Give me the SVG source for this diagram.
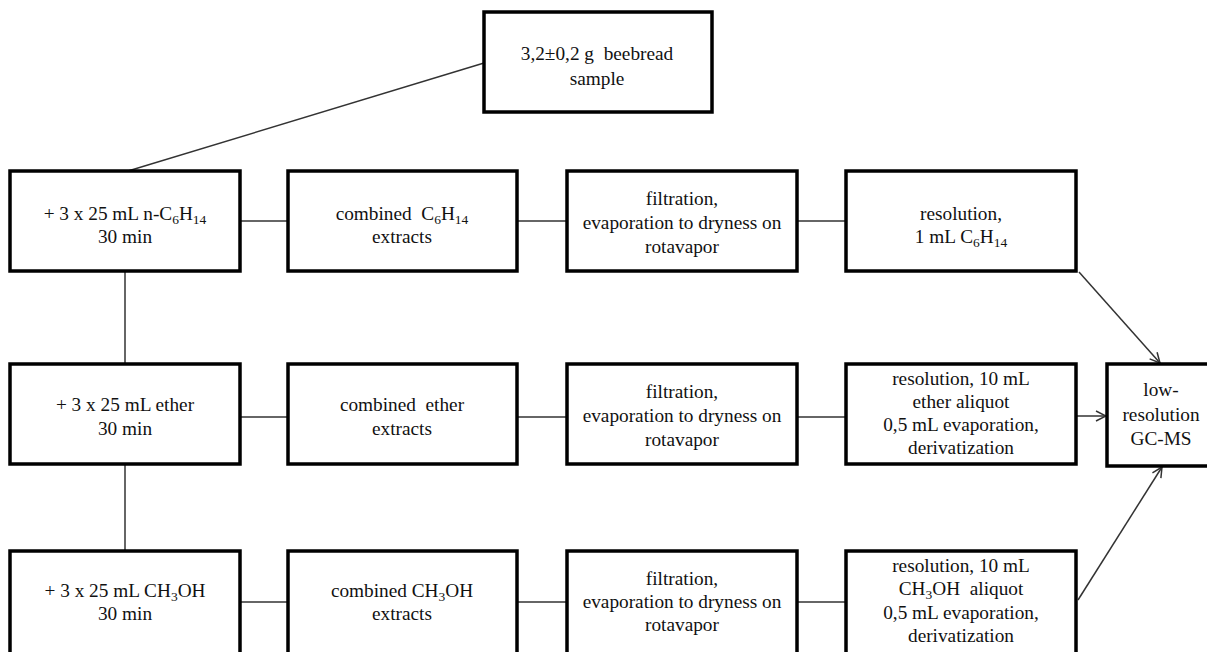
<svg xmlns="http://www.w3.org/2000/svg" width="1207" height="652" viewBox="0 0 1207 652">
<style>
.box{fill:#fff;stroke:#000;stroke-width:3.5}
.t{font-family:"Liberation Serif","Times New Roman",serif;font-size:19.3px;fill:#111;text-anchor:middle;white-space:pre}
.s{font-size:13.5px}
.c{stroke:#333;stroke-width:1.5;fill:none}
</style>
<defs>
<marker id="ah" viewBox="0 0 12 12" refX="11" refY="6" markerWidth="12" markerHeight="12" markerUnits="userSpaceOnUse" orient="auto">
<path d="M1,1 L11,6 L1,11" fill="none" stroke="#333" stroke-width="1.5"/>
</marker>
</defs>
<rect width="1207" height="652" fill="#fff"/>
<g id="connectors">
<line class="c" x1="484" y1="63" x2="128" y2="171"/>
<line class="c" x1="125" y1="271" x2="125" y2="364"/>
<line class="c" x1="125" y1="464" x2="125" y2="551"/>
<line class="c" x1="240" y1="221" x2="288" y2="221"/>
<line class="c" x1="517" y1="221" x2="567" y2="221"/>
<line class="c" x1="797" y1="221" x2="846" y2="221"/>
<line class="c" x1="240" y1="417" x2="288" y2="417"/>
<line class="c" x1="517" y1="417" x2="567" y2="417"/>
<line class="c" x1="797" y1="417" x2="846" y2="417"/>
<line class="c" x1="240" y1="602" x2="288" y2="602"/>
<line class="c" x1="517" y1="602" x2="567" y2="602"/>
<line class="c" x1="797" y1="602" x2="846" y2="602"/>
<line class="c" x1="1079" y1="272" x2="1160" y2="363" marker-end="url(#ah)"/>
<line class="c" x1="1077" y1="416" x2="1106" y2="416" marker-end="url(#ah)"/>
<line class="c" x1="1078" y1="600" x2="1162" y2="467" marker-end="url(#ah)"/>
</g>
<g id="sample">
<rect class="box" x="484" y="12" width="228" height="100"/>
<text class="t" x="597" y="60">3,2±0,2 g  beebread</text>
<text class="t" x="597" y="85">sample</text>
</g>
<g id="hexane-extraction">
<rect class="box" x="10" y="171" width="230" height="100"/>
<text class="t" x="125" y="220">+ 3 x 25 mL n-C<tspan class="s" dy="4">6</tspan><tspan dy="-4">H</tspan><tspan class="s" dy="4">14</tspan></text>
<text class="t" x="125" y="243">30 min</text>
</g>
<g id="hexane-combined">
<rect class="box" x="288" y="171" width="229" height="100"/>
<text class="t" x="402" y="220">combined  C<tspan class="s" dy="4">6</tspan><tspan dy="-4">H</tspan><tspan class="s" dy="4">14</tspan></text>
<text class="t" x="402" y="243">extracts</text>
</g>
<g id="hexane-filtration">
<rect class="box" x="567" y="171" width="230" height="100"/>
<text class="t" x="682" y="205">filtration,</text>
<text class="t" x="682" y="229">evaporation to dryness on</text>
<text class="t" x="682" y="253">rotavapor</text>
</g>
<g id="hexane-resolution">
<rect class="box" x="846" y="171" width="230" height="100"/>
<text class="t" x="961" y="220">resolution,</text>
<text class="t" x="961" y="243">1 mL C<tspan class="s" dy="4">6</tspan><tspan dy="-4">H</tspan><tspan class="s" dy="4">14</tspan></text>
</g>
<g id="ether-extraction">
<rect class="box" x="10" y="364" width="230" height="100"/>
<text class="t" x="125" y="411">+ 3 x 25 mL ether</text>
<text class="t" x="125" y="435">30 min</text>
</g>
<g id="ether-combined">
<rect class="box" x="288" y="364" width="229" height="100"/>
<text class="t" x="402" y="411">combined  ether</text>
<text class="t" x="402" y="435">extracts</text>
</g>
<g id="ether-filtration">
<rect class="box" x="567" y="364" width="230" height="100"/>
<text class="t" x="682" y="398">filtration,</text>
<text class="t" x="682" y="422">evaporation to dryness on</text>
<text class="t" x="682" y="446">rotavapor</text>
</g>
<g id="ether-resolution">
<rect class="box" x="846" y="364" width="230" height="100"/>
<text class="t" x="961" y="385">resolution, 10 mL</text>
<text class="t" x="961" y="408">ether aliquot</text>
<text class="t" x="961" y="431">0,5 mL evaporation,</text>
<text class="t" x="961" y="454">derivatization</text>
</g>
<g id="gcms">
<rect class="box" x="1107" y="364" width="120" height="102"/>
<text class="t" x="1161" y="396">low-</text>
<text class="t" x="1161" y="421">resolution</text>
<text class="t" x="1161" y="445">GC-MS</text>
</g>
<g id="methanol-extraction">
<rect class="box" x="10" y="551" width="230" height="110"/>
<text class="t" x="125" y="597">+ 3 x 25 mL CH<tspan class="s" dy="4">3</tspan><tspan dy="-4">OH</tspan></text>
<text class="t" x="125" y="620">30 min</text>
</g>
<g id="methanol-combined">
<rect class="box" x="288" y="551" width="229" height="110"/>
<text class="t" x="402" y="597">combined CH<tspan class="s" dy="4">3</tspan><tspan dy="-4">OH</tspan></text>
<text class="t" x="402" y="620">extracts</text>
</g>
<g id="methanol-filtration">
<rect class="box" x="567" y="551" width="230" height="110"/>
<text class="t" x="682" y="585">filtration,</text>
<text class="t" x="682" y="608">evaporation to dryness on</text>
<text class="t" x="682" y="631">rotavapor</text>
</g>
<g id="methanol-resolution">
<rect class="box" x="846" y="551" width="230" height="110"/>
<text class="t" x="961" y="572">resolution, 10 mL</text>
<text class="t" x="961" y="595">CH<tspan class="s" dy="4">3</tspan><tspan dy="-4">OH  aliquot</tspan></text>
<text class="t" x="961" y="619">0,5 mL evaporation,</text>
<text class="t" x="961" y="642">derivatization</text>
</g>
</svg>
